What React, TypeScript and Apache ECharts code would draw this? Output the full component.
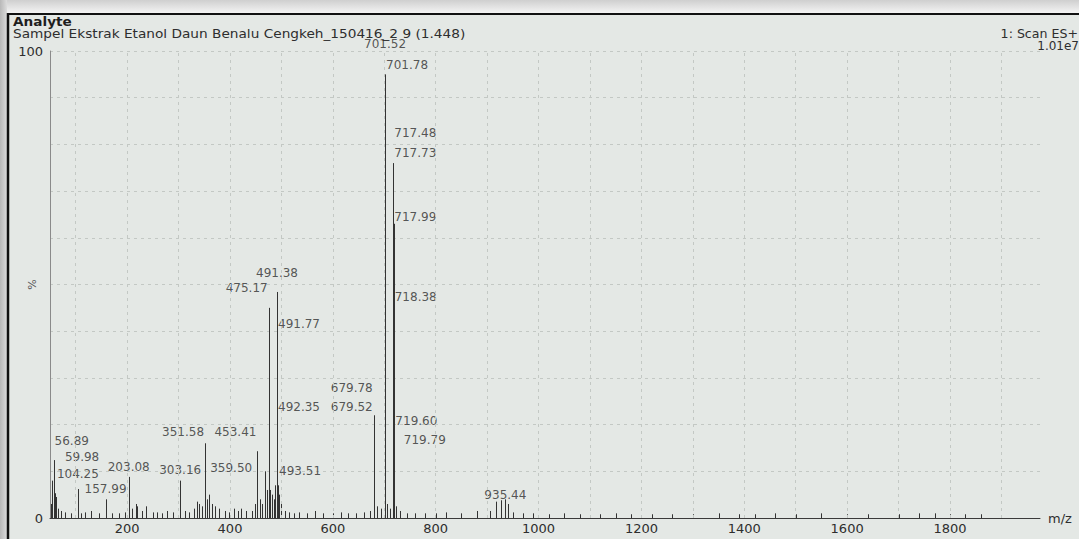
import React, { useEffect, useRef } from "react";
import * as echarts from "echarts";

// ---- Data ----
const peakMz: number[] = [
  52, 54, 56.89, 58, 59.98, 61, 65, 72, 80, 90, 104.25, 110, 118, 130, 145, 157.99, 170, 184, 195,
  203.08, 210, 217, 220, 228, 237, 250, 258, 268, 277, 290, 303.16, 312, 320, 330, 335, 340, 345,
  351.58, 355, 359.5, 365, 370, 378, 390, 398, 407, 415, 422, 432, 442, 448, 453.41, 458, 463, 468,
  472, 475.17, 478, 482, 485, 488, 491.38, 491.77, 492.35, 493.51, 496, 500, 506, 515, 525, 535, 550,
  565, 580, 600, 615, 630, 645, 660, 672, 679.52, 679.78, 686, 694, 701.52, 701.78, 705, 712, 717.48,
  717.73, 717.99, 718.38, 719.6, 719.79, 723, 730, 745, 760, 780, 800, 820, 850, 880, 905, 918, 926,
  935.44, 941, 950, 970, 990, 1020, 1050, 1080, 1120, 1150, 1180, 1220, 1260, 1300, 1350, 1390, 1420,
  1460, 1500, 1550, 1600, 1640, 1700, 1740, 1770, 1800, 1830, 1860,
];
const peakIntensity: number[] = [
  3, 8, 12.4, 6, 5.3, 4.5, 2, 1.5, 1.2, 1, 6.2, 1, 1.2, 1.5, 1, 4, 1, 1, 1.2,
  8.8, 2, 3, 2.5, 1.5, 2.5, 1.2, 1.2, 1, 1.5, 1.2, 8, 1.5, 1.2, 2, 3.5, 3, 2.5,
  16, 4, 5, 3, 2.5, 2, 1.5, 1.2, 2, 1.5, 2, 1.5, 1.5, 3, 14.3, 4, 3, 10,
  6, 45, 6, 5, 4, 7, 48.4, 40, 21, 7, 5, 3, 1.5, 1.2, 1, 1.2, 1,
  1.5, 1, 1, 1.2, 1, 1, 1.2, 1.5, 21.4, 22, 2.5, 2, 95, 94, 3, 2, 74,
  76, 63, 45.6, 19.5, 18.4, 2.5, 1.5, 1, 1, 1, 1, 1.2, 1, 1.5, 1.5, 3.5, 3.8,
  4, 3, 1.2, 1, 1, 0.8, 1, 0.8, 0.8, 1, 0.8, 0.8, 0.8, 0.8, 1, 0.8, 0.8,
  1, 0.8, 1, 0.8, 0.8, 0.8, 1, 1, 0.8, 0.8, 0.8,
];

// Peak annotations: text, anchor m/z, level (%), alignment
const labelTexts: string[] = [
  "701.52", "701.78", "717.48", "717.73", "717.99", "718.38", "491.38", "475.17", "491.77",
  "679.78", "679.52", "492.35", "719.60", "719.79", "453.41", "351.58", "359.50", "303.16",
  "203.08", "157.99", "104.25", "59.98", "56.89", "493.51", "935.44",
];
const labelAnchorMz: number[] = [
  701.52, 701.52, 717.48, 717.48, 717.48, 718.38, 491.38, 475.17, 491.38,
  679.52, 679.52, 491.38, 719.6, 736, 453.41, 351.58, 359.5, 303.16,
  203.08, 157.99, 104.25, 77, 56.89, 493.51, 935.44,
];
const labelLevel: number[] = [
  101.5, 97.0, 82.4, 78.2, 64.5, 47.3, 52.5, 49.3, 41.5,
  27.8, 23.8, 23.8, 20.8, 16.7, 18.4, 18.4, 10.7, 10.3,
  10.9, 6.2, 9.4, 13.1, 16.5, 10.1, 4.9,
];
const labelAlign: string[] = [
  "center", "left", "left", "left", "left", "left", "center", "right", "left",
  "right", "right", "left", "left", "left", "right", "right", "left", "center",
  "center", "center", "center", "left", "left", "left", "center",
];

const xTickLabels: number[] = [200, 400, 600, 800, 1000, 1200, 1400, 1600, 1800];
const yTickLabels: number[] = [0, 100];
const gridMz: number[] = [100, 200, 300, 400, 500, 600, 700, 800, 900, 1000, 1100, 1200, 1300, 1400, 1500, 1600, 1700, 1800, 1900];

const titleText = "Analyte";
const subtitleText = "Sampel Ekstrak Etanol Daun Benalu Cengkeh_150416_2 9 (1.448)";
const scanText = "1: Scan ES+";
const intensityText = "1.01e7";

const FONT = "DejaVu Sans, Liberation Sans, Arial, sans-serif";
const TEXT_COLOR = "#2e2e2e";
const GRID_COLOR = "#c3c8c4";

export default function App() {
  const ref = useRef<HTMLDivElement>(null);

  useEffect(() => {
    if (!ref.current) return;
    const chart = echarts.init(ref.current, null, { renderer: "svg" });

    const sticks = peakMz.map((m, i) => [m, peakIntensity[i]]);
    const labels = labelTexts.map((t, i) => ({
      value: [labelAnchorMz[i], labelLevel[i]],
      name: t,
      label: {
        align: labelAlign[i],
        offset: labelAlign[i] === "left" ? [1, 0] : labelAlign[i] === "right" ? [-1, 0] : [0, 0],
      },
    }));

    const option: any = {
      animation: false,
      backgroundColor: "transparent",
      graphic: [
        {
          type: "rect",
          silent: true,
          z: -10,
          shape: { x: 0, y: 0, width: 1079, height: 13 },
          style: {
            fill: new echarts.graphic.LinearGradient(0, 0, 0, 1, [
              { offset: 0, color: "#cfcfcf" },
              { offset: 1, color: "#f4f4f4" },
            ]),
          },
        },
        {
          type: "rect",
          silent: true,
          z: -10,
          shape: { x: 0, y: 0, width: 7, height: 539 },
          style: {
            fill: new echarts.graphic.LinearGradient(0, 0, 1, 0, [
              { offset: 0, color: "#b8b8b8" },
              { offset: 1, color: "#dcdcdc" },
            ]),
          },
        },
        {
          type: "line",
          silent: true,
          shape: { x1: 7, y1: 14, x2: 1079, y2: 14 },
          style: { stroke: "#111", lineWidth: 2 },
        },
        {
          type: "line",
          silent: true,
          shape: { x1: 8, y1: 13, x2: 8, y2: 539 },
          style: { stroke: "#111", lineWidth: 2.5 },
        },
        {
          type: "text",
          x: 13,
          y: 22,
          scaleX: 1.05,
          style: {
            text: titleText,
            font: `bold 13px ${FONT}`,
            fill: "#1e1e1e",
            verticalAlign: "middle",
          },
        },
        {
          type: "text",
          x: 13,
          y: 34,
          scaleX: 1.14,
          style: {
            text: subtitleText,
            font: `12px ${FONT}`,
            fill: TEXT_COLOR,
            verticalAlign: "middle",
          },
        },
        {
          type: "text",
          x: 1078,
          y: 34,
          scaleX: 1.05,
          originX: 0,
          style: {
            text: scanText,
            font: `12px ${FONT}`,
            fill: TEXT_COLOR,
            align: "right",
            verticalAlign: "middle",
          },
        },
        {
          type: "text",
          x: 1079,
          y: 46,
          style: {
            text: intensityText,
            font: `12px ${FONT}`,
            fill: TEXT_COLOR,
            align: "right",
            verticalAlign: "middle",
          },
        },
      ],
      grid: {
        left: 50,
        right: 39,
        top: 51,
        bottom: 21,
        containLabel: false,
        outerBoundsMode: "none",
      },
      xAxis: {
        type: "value",
        min: 50,
        max: 1975,
        interval: 25,
        axisLine: { show: true, lineStyle: { color: "#3a3a3a", width: 1 } },
        axisTick: { show: false },
        splitLine: { show: false },
        axisLabel: {
          formatter: (v: number) => (xTickLabels.indexOf(v) >= 0 ? String(v) : ""),
          color: TEXT_COLOR,
          fontSize: 13,
          fontFamily: FONT,
          margin: 4,
          showMinLabel: false,
          showMaxLabel: false,
        },
        name: "m/z",
        nameLocation: "end",
        nameGap: 8,
        nameMoveOverlap: false,
        nameTextStyle: { color: TEXT_COLOR, fontSize: 13, fontFamily: FONT, verticalAlign: "middle" },
      },
      yAxis: {
        type: "value",
        min: 0,
        max: 100,
        interval: 10,
        axisLine: { show: true, lineStyle: { color: "#8a8a8a", width: 1 } },
        axisTick: { show: false },
        splitLine: { show: true, lineStyle: { type: [3, 4], color: GRID_COLOR, width: 1 } },
        axisLabel: {
          formatter: (v: number) => (yTickLabels.indexOf(v) >= 0 ? String(v) : ""),
          color: TEXT_COLOR,
          fontSize: 13,
          fontFamily: FONT,
          margin: 7,
        },
        name: "%",
        nameLocation: "middle",
        nameGap: 12,
        nameRotate: 90,
        nameMoveOverlap: false,
        nameTextStyle: { color: "#555", fontSize: 11, fontFamily: FONT },
      },
      series: [
        {
          type: "line",
          data: [],
          silent: true,
          markLine: {
            silent: true,
            symbol: "none",
            label: { show: false },
            lineStyle: { type: [3, 4], color: GRID_COLOR, width: 1 },
            data: gridMz.map((v) => ({ xAxis: v })),
          },
        },
        {
          type: "custom",
          data: sticks,
          clip: true,
          renderItem: (params: any, api: any) => {
            const p0 = api.coord([api.value(0), 0]);
            const p1 = api.coord([api.value(0), api.value(1)]);
            const x = Math.round(p0[0]) + 0.5;
            return {
              type: "line",
              shape: { x1: x, y1: p0[1], x2: x, y2: p1[1] },
              style: { stroke: "#333", lineWidth: 1 },
            };
          },
        },
        {
          type: "scatter",
          data: labels,
          symbolSize: 0,
          clip: false,
          silent: true,
          label: {
            show: true,
            position: "inside",
            verticalAlign: "middle",
            formatter: (p: any) => p.name,
            color: TEXT_COLOR,
            fontSize: 12,
            fontFamily: FONT,
          },
        },
      ],
    };

    chart.setOption(option);
    return () => chart.dispose();
  }, []);

  return (
    <div
      ref={ref}
      style={{
        position: "absolute",
        left: 0,
        top: 0,
        width: 1079,
        height: 539,
        background: "#e4e8e5",
      }}
    />
  );
}
